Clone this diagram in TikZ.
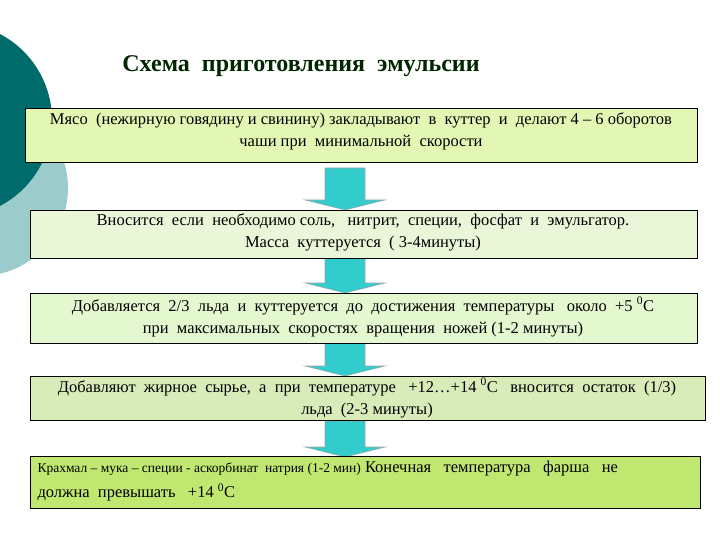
\documentclass[tikz,border=0pt]{standalone}
\usepackage{fontspec}
\setmainfont{Liberation Serif}
\definecolor{darkteal}{HTML}{006B6B}
\definecolor{lightteal}{HTML}{9CCBCB}
\definecolor{arrowc}{HTML}{33CCCC}
\tikzset{
 stepbox/.style={draw=black,line width=0.8pt,inner sep=0pt},
 txt/.style={align=center,font=\fontsize{16.5}{22}\selectfont},
 arr/.style={fill=arrowc,draw=gray!70,line width=0.6pt}
}
\newcommand{\dnarrow}[3]{% x, top, tip
 \path[arr] (#1-20,#2) -- (#1+20,#2) -- (#1+20,#3-10) -- (#1+40,#3-10) -- (#1,#3) -- (#1-40,#3-10) -- (#1-20,#3-10) -- cycle;}
\begin{document}
\begin{tikzpicture}[x=1pt,y=-1pt]
\useasboundingbox (0,0) rectangle (720,540);
\fill[white] (0,0) rectangle (720,540);
\begin{scope}
\clip (0,0) rectangle (720,540);
\fill[lightteal] (-20,188) circle (88);
\fill[darkteal] (-45,120) circle (97);
\end{scope}
\node[font=\bfseries\fontsize{24}{26}\selectfont,text=black!85!green] (title) at (301,66) {Схема \ приготовления \ эмульсии};
% arrows
\dnarrow{345}{168}{210}
\dnarrow{345}{258}{293}
\dnarrow{345}{343}{376}
\dnarrow{345}{421}{457}
% boxes
\draw[stepbox,fill={rgb,255:red,226;green,247;blue,180}] (25,108) rectangle (697,162);
\node[txt] (b1) at (361,131) {Мясо \ (нежирную говядину и свинину) закладывают \ в \ куттер \ и \ делают 4 – 6 оборотов\\ чаши при \ минимальной \ скорости};
\draw[stepbox,fill={rgb,255:red,234;green,246;blue,216}] (30,210) rectangle (697,258);
\node[txt] (b2) at (363,232) {Вносится \ если \ необходимо соль, \ \ нитрит, \ специи, \ фосфат \ и \ эмульгатор.\\ Масса \ куттеруется \ ( 3-4минуты)};
\draw[stepbox,fill={rgb,255:red,228;green,248;blue,208}] (30,293) rectangle (697,343);
\node[txt] (b3) at (363,317) {Добавляется \ 2/3 \ льда \ и \ куттеруется \ до \ достижения \ температуры \ \ около \ +5 \textsuperscript{0}С\\ при \ максимальных \ скоростях \ вращения \ ножей (1-2 минуты)};
\draw[stepbox,fill={rgb,255:red,216;green,236;blue,186}] (30,376) rectangle (705,420);
\node[txt] (b4) at (367,398) {Добавляют \ жирное \ сырье, \ а \ при \ температуре \ \ +12…+14 \textsuperscript{0}С \ \ вносится \ остаток \ (1/3)\\ льда \ (2-3 минуты)};
\draw[stepbox,fill={rgb,255:red,192;green,232;blue,112}] (30,456) rectangle (700,508);
\node[align=left,anchor=west,font=\fontsize{16.5}{25}\selectfont] (b5) at (34,481) {{\fontsize{13.5}{14}\selectfont Крахмал – мука – специи - аскорбинат \ натрия (1-2 мин)} Конечная \ \ температура \ \ фарша \ \ не\\ должна \ превышать \ \ +14 \textsuperscript{0}С};
\end{tikzpicture}
\end{document}
